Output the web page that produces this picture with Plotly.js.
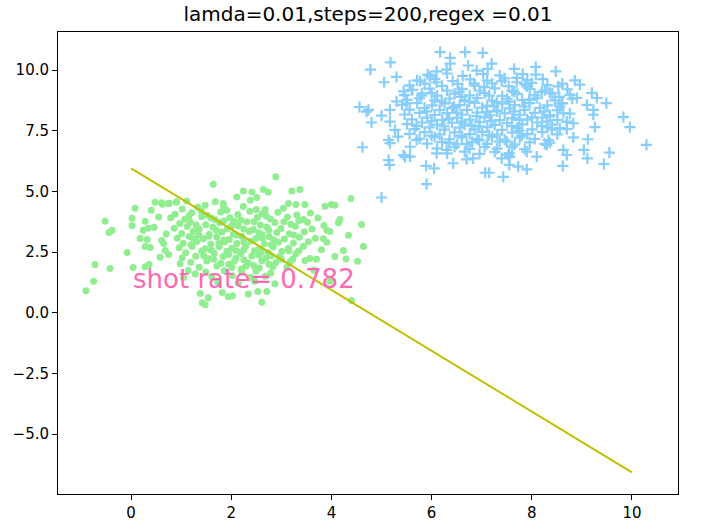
<!DOCTYPE html>
<html>
<head>
<meta charset="utf-8">
<script src="https://cdn.plot.ly/plotly-3.0.1.min.js"></script>
<style>
  html, body { margin: 0; padding: 0; background: #fff; }
  #chart { width: 711px; height: 529px; }
</style>
</head>
<body>
<div id="chart"></div>
<script>
// class 1 samples (green dots)
var greenPoints = [
  // sparse edge
  [1.64,5.30],[0.08,4.31],[0.40,4.22],[0.48,4.55],[0.62,4.47],[0.76,4.51],[0.90,4.55],
  [-0.52,3.77],[0.02,3.89],[0.02,3.60],[-0.38,3.40],[-0.44,3.31],[0.28,3.77],[0.46,3.52],
  [0.34,3.48],[0.24,3.40],[0.18,3.06],[0.32,3.02],[0.28,2.73],[0.38,2.69],[-0.08,2.48],
  [-0.72,1.99],[-0.42,1.82],[0.04,1.86],[0.28,1.90],[0.36,1.99],[-0.75,1.30],[-0.90,0.91],
  [1.38,0.79],[1.54,0.62],[1.42,0.41],[1.48,0.33],[1.82,0.83],[2.02,0.70],[1.94,0.66],
  [2.61,0.43],[2.71,0.88],[2.53,0.88],[2.34,0.77],[2.87,1.19],[3.97,1.30],[4.40,0.50],
  [2.89,5.60],[3.37,5.08],[3.21,5.02],[3.47,4.46],[3.29,4.46],[3.14,4.50],[3.87,4.39],
  [4.00,4.46],[4.07,4.43],[4.39,4.71],[4.17,3.84],[4.14,3.71],[4.60,3.64],[3.91,3.40],
  [3.97,3.35],[4.34,3.19],[3.84,3.05],[3.91,2.91],[4.64,2.73],[4.24,2.57],[4.07,2.32],
  [4.29,2.22],[4.52,2.12],[3.57,2.24],[3.47,2.15],[2.11,4.77],[0.61,4.53],[0.74,4.50],
  [0.91,4.57],[1.11,4.61],[1.48,4.43],[1.68,4.57],[1.84,4.50],[0.61,2.98],[0.68,2.57],
  [0.58,2.29],[1.14,1.74],[1.28,1.60],[0.98,2.02],[2.24,5.02],[2.41,4.98],[2.64,5.08],
  [2.74,4.98],[2.38,4.64],[2.51,4.75],[0.70,3.25],[0.65,2.85],[3.85,3.60],[3.80,2.60],
  [3.70,2.20],[0.75,2.40],[0.55,3.95],[3.65,1.75],[1.05,1.45],
  // dense core
  [1.02,4.28],[1.33,4.35],[1.91,4.22],[2.24,4.38],[2.68,4.25],[3.04,4.31],
  [0.88,4.06],[1.21,4.12],[1.52,4.02],[1.79,4.15],[2.13,4.05],[2.37,4.18],[2.62,4.08],
  [2.93,4.14],[3.31,4.03],[3.58,4.11],
  [0.79,3.92],[1.07,3.85],[1.41,3.96],[1.68,3.83],[1.97,3.91],[2.19,3.81],[2.52,3.94],
  [2.78,3.86],[3.12,3.95],[3.44,3.84],[3.73,3.90],
  [0.97,3.68],[1.18,3.74],[1.49,3.63],[1.77,3.71],[2.06,3.66],[2.31,3.75],[2.58,3.62],
  [2.87,3.72],[3.19,3.65],[3.52,3.73],
  [0.86,3.48],[1.12,3.55],[1.36,3.44],[1.63,3.52],[1.92,3.46],[2.14,3.57],[2.44,3.43],
  [2.71,3.53],[2.99,3.47],[3.28,3.56],[3.61,3.45],
  [1.01,3.27],[1.24,3.35],[1.56,3.24],[1.81,3.33],[2.04,3.25],[2.36,3.36],[2.61,3.22],
  [2.91,3.31],[3.16,3.26],[3.46,3.34],
  [0.92,3.08],[1.16,3.14],[1.44,3.05],[1.71,3.12],[1.96,3.02],[2.21,3.15],[2.49,3.06],
  [2.76,3.13],[3.06,3.04],[3.36,3.11],[3.68,3.07],
  [1.04,2.86],[1.31,2.94],[1.59,2.83],[1.86,2.92],[2.11,2.85],[2.39,2.95],[2.66,2.84],
  [2.94,2.91],[3.24,2.87],[3.54,2.93],
  [0.96,2.68],[1.22,2.74],[1.48,2.64],[1.76,2.72],[2.01,2.66],[2.29,2.75],[2.56,2.63],
  [2.84,2.71],[3.14,2.65],[3.44,2.74],
  [1.09,2.47],[1.41,2.54],[1.66,2.45],[1.91,2.53],[2.19,2.44],[2.46,2.55],[2.74,2.46],
  [3.01,2.52],[3.29,2.43],
  [1.02,2.27],[1.29,2.33],[1.54,2.24],[1.84,2.32],[2.09,2.25],[2.41,2.34],[2.69,2.26],
  [2.96,2.31],[3.23,2.22],
  [1.19,2.08],[1.51,2.13],[1.79,2.04],[2.06,2.12],[2.34,2.05],[2.61,2.14],[2.89,2.07],[3.18,2.11],
  [1.36,1.88],[1.71,1.93],[2.01,1.86],[2.29,1.92],[2.56,1.84],[2.83,1.90],[3.11,1.87],
  [1.49,1.68],[1.86,1.73],[2.21,1.66],[2.49,1.72],[2.79,1.64],
  [1.61,1.48],[2.02,1.52],[2.38,1.45],[2.68,1.50],
  [1.73,1.27],[2.14,1.22],[2.47,1.30],
  [1.60,3.90],[2.45,3.75],[1.85,3.00],[2.55,3.30],[2.25,2.60],[1.35,3.20],[2.80,2.35],[3.35,3.80],
  [1.15,3.98],[1.85,3.78],[2.70,3.98],[1.30,3.62],[2.00,3.58],[2.75,3.40],[3.05,3.75],
  [1.70,3.40],[2.25,3.45],[1.55,3.15],[2.10,3.20],[2.62,3.08],[3.25,3.20],[1.20,2.80],
  [1.75,2.85],[2.25,2.92],[2.80,2.80],[1.60,2.58],[2.10,2.56],[2.60,2.50],[3.15,2.55],
  [1.45,2.35],[1.95,2.40],[2.55,2.38],[2.25,2.18],[1.65,2.20],[2.75,2.00],[1.95,2.00],
  [2.45,1.95],[1.40,4.20],[2.50,4.25],[1.25,3.05],[2.85,3.00],[3.35,2.55],[1.85,4.35],
  [2.05,3.78],[3.00,2.20],[2.20,1.80]
];

// class 2 samples (blue crosses)
var bluePoints = [
  // sparse edge
  [6.17,10.74],[6.67,10.74],[5.18,10.32],[4.78,10.02],[5.05,9.50],[5.30,9.72],[6.37,10.50],
  [6.37,10.27],[4.56,8.48],[4.74,8.36],[4.70,8.29],[4.80,7.84],[5.00,8.12],[5.17,8.36],
  [5.17,7.88],[4.62,6.82],[5.14,7.12],[5.17,6.99],[5.14,6.29],[5.16,6.09],[5.44,6.50],
  [5.57,6.43],[5.47,6.41],[5.89,6.05],[6.05,5.95],[5.90,5.30],[5.00,4.75],[5.77,9.54],
  [5.97,9.74],[6.10,9.95],[6.30,10.02],[5.44,9.12],[5.60,9.19],[5.30,8.71],[5.50,8.64],
  [5.27,7.54],[5.33,7.26],[5.57,6.84],[5.70,7.12],[6.10,6.57],[6.30,6.71],[6.43,6.16],
  [7.02,10.71],[6.73,10.19],[7.20,10.27],[7.12,10.05],[6.90,9.98],[7.65,10.05],[8.08,10.13],
  [8.08,9.81],[8.48,9.95],[8.86,9.58],[8.96,9.40],[9.20,9.06],[9.30,8.85],[9.49,8.64],
  [9.10,8.57],[9.23,8.36],[9.23,8.16],[8.90,8.85],[8.60,8.64],[8.63,8.23],[9.83,8.06],
  [9.96,7.65],[9.26,7.65],[10.29,6.92],[8.70,7.88],[8.83,7.81],[8.56,7.61],[8.70,7.57],
  [8.83,7.23],[9.12,7.15],[8.33,7.12],[8.36,7.01],[8.63,6.71],[8.70,6.50],[9.04,6.71],
  [9.55,6.60],[9.11,6.36],[9.44,6.13],[8.62,6.05],[8.10,6.43],[7.90,6.64],[7.73,6.02],
  [7.90,5.91],[7.55,6.09],[7.43,5.60],[7.07,5.77],[7.15,5.77],[7.40,6.36],[7.56,6.41],
  [6.83,6.36],[6.70,6.32],[8.53,9.33],[8.36,9.06],[8.00,9.47],[7.90,9.33],[7.40,9.54],
  [7.70,9.68],[8.36,8.09],[8.56,8.50],[7.53,6.50],[8.30,6.92],
  // dense core
  [5.92,9.81],[6.31,9.86],[6.62,9.76],[7.03,9.84],[7.36,9.78],[7.82,9.83],
  [5.71,9.58],[6.06,9.64],[6.42,9.55],[6.77,9.62],[7.11,9.57],[7.46,9.66],[7.91,9.59],[8.22,9.63],
  [5.56,9.37],[5.86,9.44],[6.21,9.35],[6.52,9.43],[6.86,9.36],[7.21,9.45],[7.54,9.34],
  [7.86,9.42],[8.31,9.38],[8.61,9.44],
  [5.62,9.18],[5.96,9.24],[6.31,9.15],[6.61,9.23],[6.96,9.16],[7.26,9.25],[7.61,9.14],
  [7.96,9.22],[8.26,9.17],[8.71,9.21],
  [5.46,8.97],[5.81,9.04],[6.11,8.95],[6.46,9.03],[6.76,8.96],[7.06,9.05],[7.41,8.94],
  [7.71,9.02],[8.06,8.96],[8.41,9.04],[8.76,8.98],
  [5.51,8.77],[5.76,8.84],[6.06,8.75],[6.36,8.83],[6.66,8.76],[6.91,8.85],[7.21,8.74],
  [7.51,8.82],[7.81,8.76],[8.11,8.84],[8.46,8.75],[8.81,8.82],
  [5.41,8.57],[5.71,8.64],[6.01,8.55],[6.26,8.63],[6.56,8.56],[6.86,8.65],[7.11,8.54],
  [7.41,8.62],[7.66,8.56],[7.96,8.64],[8.31,8.55],[8.61,8.63],
  [5.56,8.37],[5.86,8.44],[6.16,8.35],[6.41,8.43],[6.71,8.36],[7.01,8.45],[7.31,8.34],
  [7.56,8.42],[7.86,8.36],[8.16,8.44],[8.51,8.35],
  [5.46,8.17],[5.76,8.24],[6.06,8.15],[6.31,8.23],[6.61,8.16],[6.91,8.25],[7.16,8.14],
  [7.46,8.22],[7.76,8.16],[8.06,8.24],[8.36,8.15],[8.76,8.21],
  [5.61,7.97],[5.91,8.04],[6.21,7.95],[6.51,8.03],[6.76,7.96],[7.06,8.05],[7.36,7.94],
  [7.61,8.02],[7.91,7.96],[8.21,8.04],[8.51,7.95],
  [5.51,7.77],[5.81,7.84],[6.11,7.75],[6.41,7.83],[6.66,7.76],[6.96,7.85],[7.26,7.74],
  [7.51,7.82],[7.81,7.76],[8.11,7.84],[8.41,7.75],
  [5.66,7.57],[5.96,7.64],[6.26,7.55],[6.56,7.63],[6.86,7.56],[7.11,7.65],[7.41,7.54],
  [7.71,7.62],[8.01,7.56],[8.31,7.64],
  [5.56,7.37],[5.86,7.44],[6.16,7.35],[6.46,7.43],[6.76,7.36],[7.01,7.45],[7.31,7.34],
  [7.61,7.42],[7.91,7.36],[8.21,7.44],[8.51,7.35],
  [5.76,7.17],[6.06,7.24],[6.36,7.15],[6.61,7.23],[6.91,7.16],[7.21,7.25],[7.46,7.14],
  [7.76,7.22],[8.06,7.16],
  [5.91,6.97],[6.21,7.04],[6.51,6.95],[6.81,7.03],[7.11,6.96],[7.36,7.05],[7.66,6.94],
  [7.96,7.02],[8.26,6.96],
  [6.11,6.77],[6.46,6.84],[6.76,6.75],[7.06,6.83],[7.31,6.76],[7.61,6.85],[7.86,6.74],
  [6.31,6.57],[6.66,6.64],[6.96,6.55],[7.26,6.63],[7.55,6.58],
  [6.60,8.90],[7.30,8.30],[6.80,7.70],[7.55,8.70],[6.35,8.00],[7.75,7.50],[7.05,9.30],[6.90,8.10],
  [6.00,9.05],[6.55,9.10],[7.15,8.95],[7.65,9.10],[8.20,9.10],[6.20,8.70],[6.75,8.70],
  [7.30,8.68],[7.95,8.78],[8.55,8.90],[5.90,8.30],[6.50,8.25],[7.10,8.27],[7.65,8.30],
  [8.25,8.30],[6.00,7.90],[6.60,7.88],[7.20,7.90],[7.75,7.95],[8.30,7.88],[5.70,7.70],
  [6.25,7.68],[6.95,7.68],[7.60,7.70],[8.20,7.70],[6.00,7.30],[6.60,7.30],[7.15,7.32],
  [7.80,7.30],[8.40,7.55],[6.35,7.00],[6.95,7.10],[7.50,7.05],[6.85,9.45],[7.70,9.50],
  [6.10,9.50],[6.45,8.50],[7.25,8.50],[7.85,8.50],[5.80,8.95],[8.00,8.05],[6.70,6.95]
];

// fitted decision line
var lineX = [0, 10];
var lineY = [5.95, -6.58];

var titleText = 'lamda=0.01,steps=200,regex =0.01';
var rateText = 'shot rate= 0.782';

var xs = function (pts) { return pts.map(function (p) { return p[0]; }); };
var ys = function (pts) { return pts.map(function (p) { return p[1]; }); };

var data = [
  {
    x: xs(greenPoints), y: ys(greenPoints),
    type: 'scatter', mode: 'markers',
    marker: { color: '#90ee90', size: 7, line: { width: 0 } },
    hoverinfo: 'skip'
  },
  {
    x: xs(bluePoints), y: ys(bluePoints),
    type: 'scatter', mode: 'markers',
    marker: { symbol: 'cross-thin', size: 8, color: '#87cefa',
              line: { color: '#87cefa', width: 2.2 } },
    hoverinfo: 'skip'
  },
  {
    x: lineX, y: lineY,
    type: 'scatter', mode: 'lines',
    line: { color: '#bfbf00', width: 2 },
    hoverinfo: 'skip'
  }
];

var axisStyle = {
  showgrid: false,
  zeroline: false,
  showline: true,
  mirror: true,
  linecolor: '#000',
  linewidth: 1,
  ticks: 'outside',
  ticklen: 5,
  tickwidth: 1,
  tickcolor: '#000',
  tickfont: { family: 'DejaVu Sans', size: 15, color: '#000' }
};

var layout = {
  width: 711,
  height: 529,
  margin: { l: 58, r: 33, t: 32, b: 35 },
  paper_bgcolor: '#fff',
  plot_bgcolor: '#fff',
  showlegend: false,
  font: { family: 'DejaVu Sans', color: '#000' },
  title: {
    text: titleText,
    font: { family: 'DejaVu Sans', size: 20, color: '#000' },
    x: 0.5175, xanchor: 'center',
    y: 0.974, yanchor: 'middle', yref: 'container'
  },
  xaxis: Object.assign({}, axisStyle, {
    range: [-1.46, 10.92], tick0: 0, dtick: 2
  }),
  yaxis: Object.assign({}, axisStyle, {
    range: [-7.47, 11.57], tick0: 0, dtick: 2.5, tickformat: '.1f'
  }),
  annotations: [{
    x: 0, y: 1.41, xref: 'x', yref: 'y',
    text: rateText, showarrow: false,
    xanchor: 'left', yanchor: 'middle',
    font: { family: 'DejaVu Sans', size: 26, color: '#ff69b4' }
  }]
};

Plotly.newPlot('chart', data, layout, { displayModeBar: false, staticPlot: true });
</script>
</body>
</html>
